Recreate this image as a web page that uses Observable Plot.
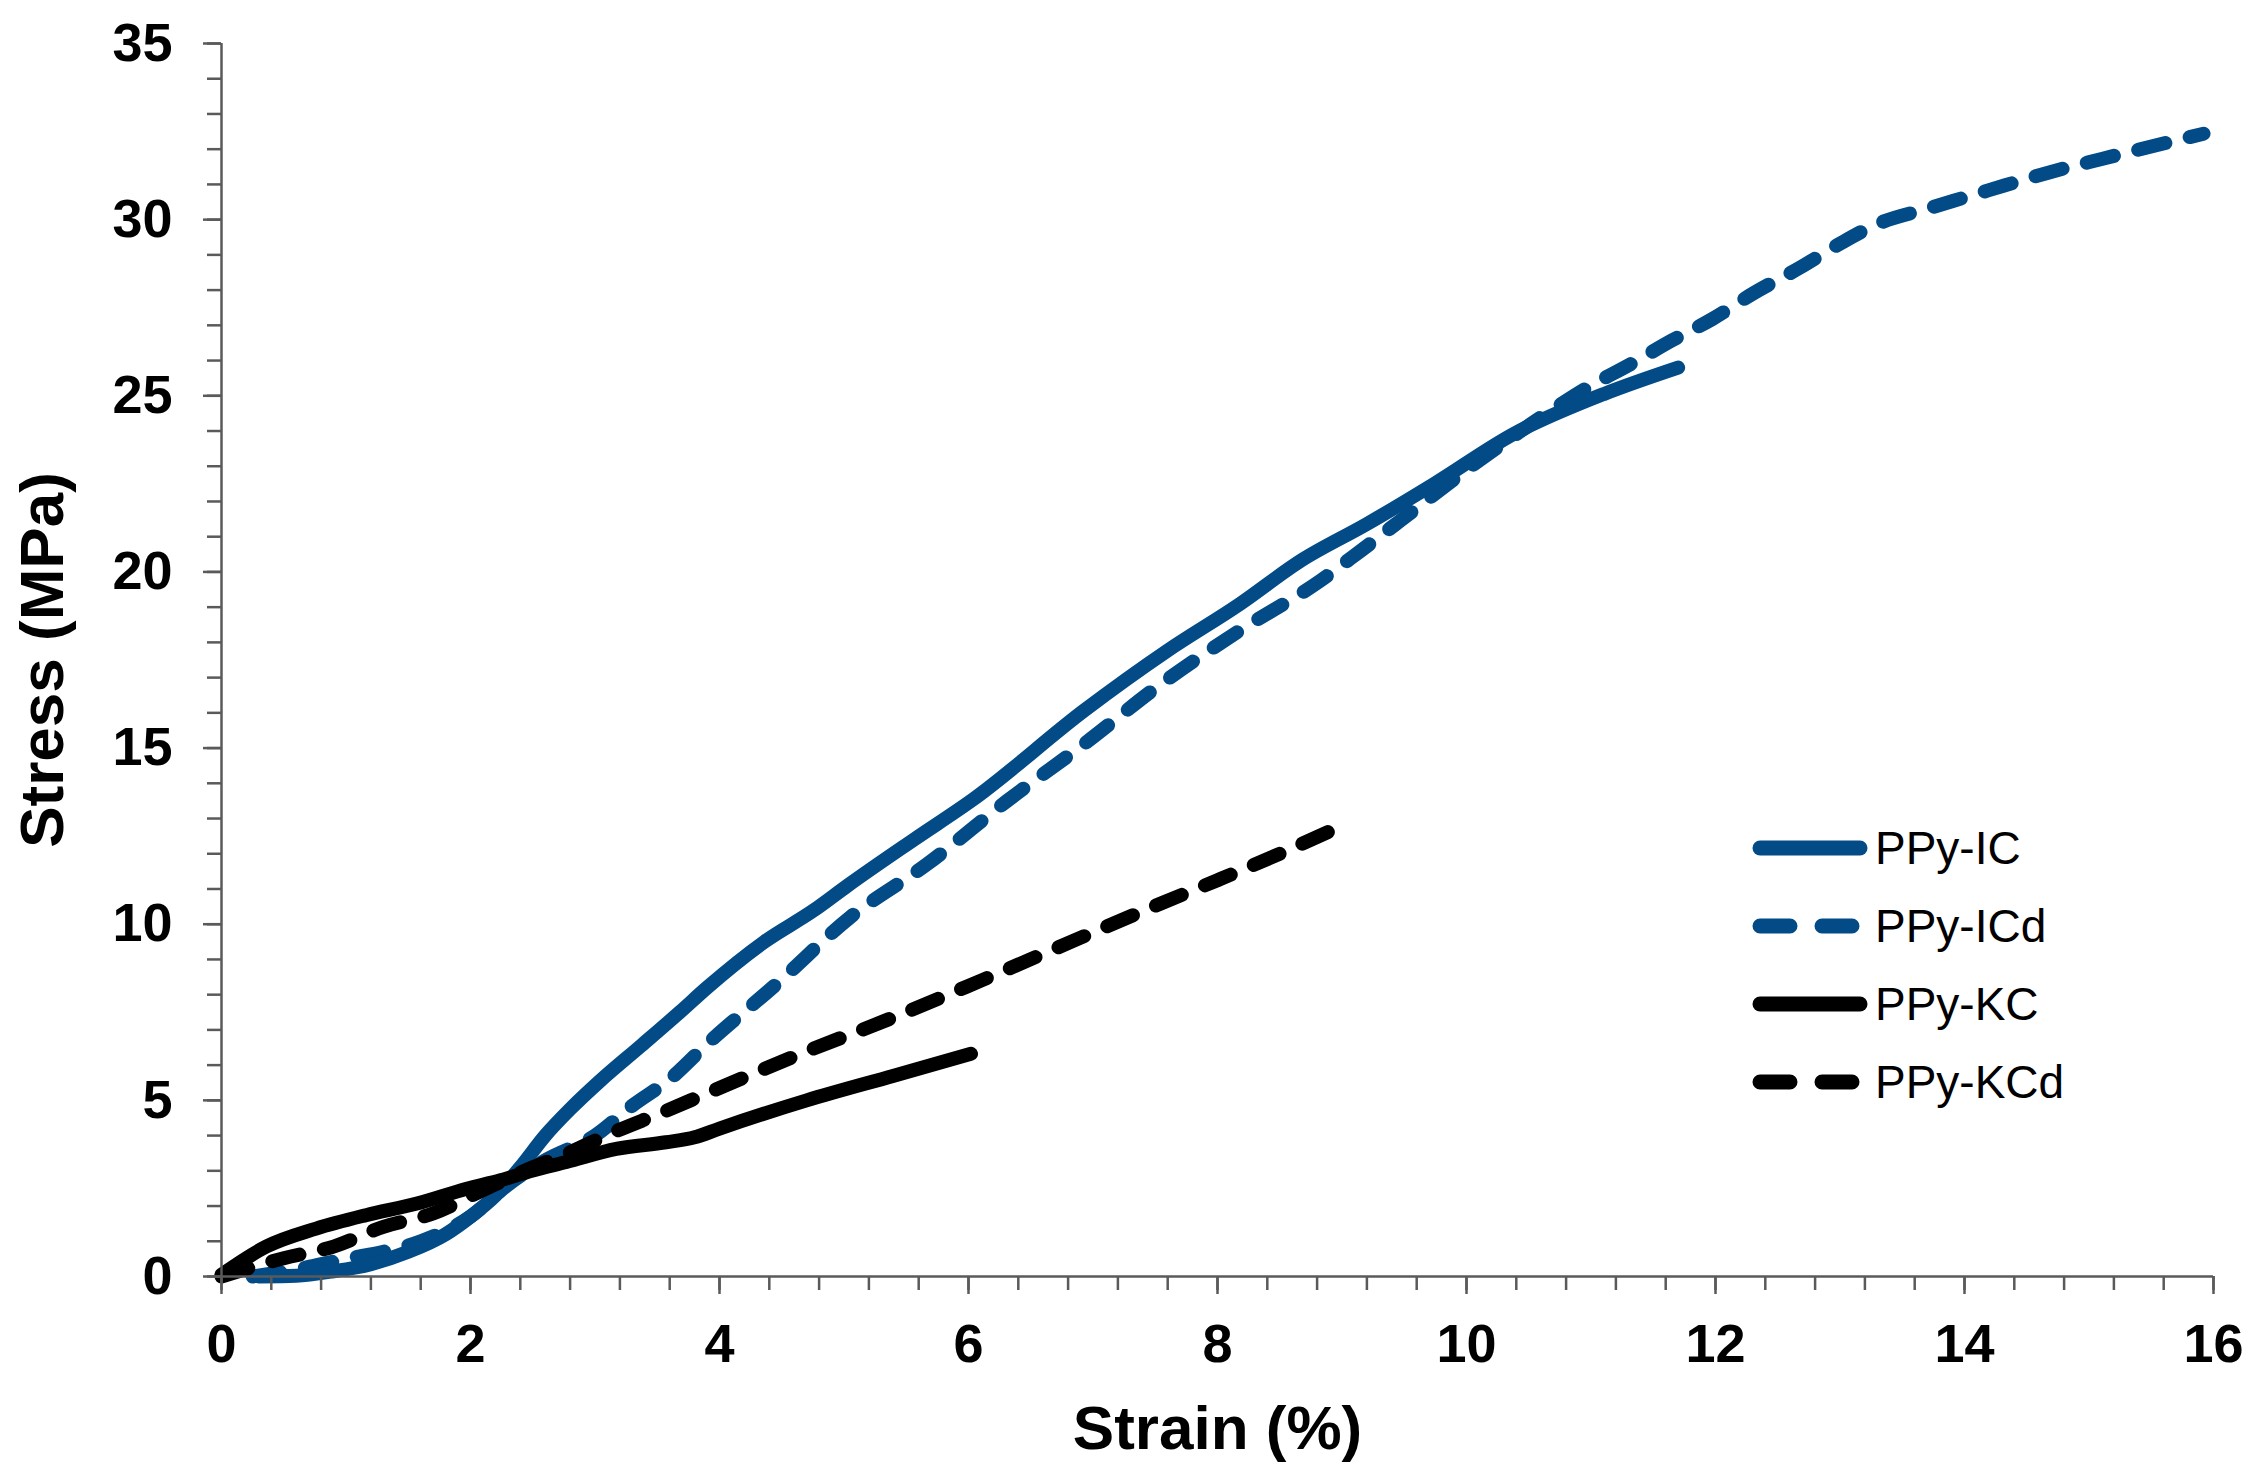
<!DOCTYPE html>
<html>
<head>
<meta charset="utf-8">
<script src="https://cdn.jsdelivr.net/npm/d3@7"></script>
<script src="https://cdn.jsdelivr.net/npm/@observablehq/plot@0.6"></script>
<style>
  html, body { margin: 0; padding: 0; background: #fff; }
  #wrap { position: relative; width: 2256px; height: 1482px; }
  #legend { position: absolute; left: 0; top: 0; pointer-events: none; }
</style>
</head>
<body>
<div id="wrap"></div>
<script>
// ---------- data ----------
const seriesNames = ["PPy-IC", "PPy-ICd", "PPy-KC", "PPy-KCd"];

const strain_IC = [0.3, 0.6, 0.9, 1.2, 1.5, 1.8, 2.0, 2.2, 2.4, 2.6, 2.8, 3.04, 3.37, 3.68, 3.90, 4.36, 4.76, 5.03, 5.56, 6.04, 6.93, 7.60, 8.18, 8.67, 9.20, 9.74, 10.38, 11.11, 11.70];
const stress_IC = [0, 0.02, 0.15, 0.35, 0.7, 1.2, 1.7, 2.3, 3.1, 4.0, 4.75, 5.55, 6.55, 7.5, 8.2, 9.5, 10.4, 11.1, 12.4, 13.55, 16.07, 17.77, 19.09, 20.32, 21.36, 22.5, 23.92, 25.06, 25.80];

const strain_ICd = [0.25, 0.6, 1.0, 1.3, 1.6, 2.0, 2.3, 2.6, 3.0, 3.3, 3.6, 3.9, 4.46, 5.05, 5.67, 6.31, 6.93, 7.54, 8.18, 8.83, 9.15, 9.47, 10.0, 10.68, 10.97, 11.33, 11.65, 11.98, 12.30, 12.68, 13.0, 13.33, 13.70, 14.19, 14.68, 15.11, 15.92];
const stress_ICd = [0, 0.2, 0.5, 0.7, 1.0, 1.7, 2.6, 3.3, 4.0, 4.85, 5.6, 6.6, 8.31, 10.2, 11.71, 13.5, 15.12, 16.8, 18.34, 19.76, 20.6, 21.46, 22.9, 24.58, 25.23, 25.92, 26.57, 27.19, 27.9, 28.64, 29.32, 29.92, 30.31, 30.83, 31.34, 31.73, 32.44];

const strain_KC = [0, 0.36, 0.76, 1.16, 1.57, 1.97, 2.24, 2.50, 2.77, 3.17, 3.57, 3.8, 4.0, 4.7, 5.4, 6.02];
const stress_KC = [0.05, 0.85, 1.36, 1.74, 2.07, 2.49, 2.73, 3.01, 3.25, 3.62, 3.81, 3.95, 4.2, 5.0, 5.7, 6.32];

const strain_KCd = [0, 0.5, 0.9, 1.3, 1.7, 2.1, 2.5, 2.77, 3.12, 3.57, 3.9, 4.65, 5.40, 6.10, 6.85, 7.54, 8.0, 8.5, 8.97];
const stress_KCd = [0, 0.52, 0.85, 1.41, 1.79, 2.45, 3.1, 3.48, 4.05, 4.70, 5.2, 6.32, 7.36, 8.40, 9.54, 10.58, 11.25, 12.0, 12.75];

const xMajorTicks = [0, 2, 4, 6, 8, 10, 12, 14, 16];
const xMinorTicks = [0, 0.4, 0.8, 1.2, 1.6, 2, 2.4, 2.8, 3.2, 3.6, 4, 4.4, 4.8, 5.2, 5.6, 6, 6.4, 6.8, 7.2, 7.6, 8, 8.4, 8.8, 9.2, 9.6, 10, 10.4, 10.8, 11.2, 11.6, 12, 12.4, 12.8, 13.2, 13.6, 14, 14.4, 14.8, 15.2, 15.6, 16];
const yMajorTicks = [0, 5, 10, 15, 20, 25, 30, 35];
const yMinorTicks = [0, 1, 2, 3, 4, 5, 6, 7, 8, 9, 10, 11, 12, 13, 14, 15, 16, 17, 18, 19, 20, 21, 22, 23, 24, 25, 26, 27, 28, 29, 30, 31, 32, 33, 34, 35];

const xLabel = "Strain (%)";
const yLabel = "Stress (MPa)";

// ---------- styles ----------
const BLUE = "#034b86";
const BLACK = "#000000";
const AXIS = "#5a5a5a";
const FONT = "'Liberation Sans', Arial, Helvetica, sans-serif";
const seriesStyle = {
  "PPy-IC":  {stroke: BLUE,  dash: null},
  "PPy-ICd": {stroke: BLUE,  dash: "28,25"},
  "PPy-KC":  {stroke: BLACK, dash: null},
  "PPy-KCd": {stroke: BLACK, dash: "28,25"}
};

const toRows = (xs, ys) => xs.map((x, i) => ({strain: x, stress: ys[i]}));
const rows = {
  "PPy-IC": toRows(strain_IC, stress_IC),
  "PPy-ICd": toRows(strain_ICd, stress_ICd),
  "PPy-KC": toRows(strain_KC, stress_KC),
  "PPy-KCd": toRows(strain_KCd, stress_KCd)
};

const lineMark = (name) => Plot.line(rows[name], {
  x: "strain", y: "stress",
  stroke: seriesStyle[name].stroke,
  strokeWidth: 14,
  strokeLinecap: "round",
  strokeLinejoin: "round",
  strokeDasharray: seriesStyle[name].dash || undefined,
  curve: "monotone-x"
});

const W = 2256, H = 1482;
const chart = Plot.plot({
  width: W, height: H,
  marginLeft: 221, marginRight: 43, marginTop: 43, marginBottom: 206,
  style: {fontFamily: FONT, background: "#fff", color: "#000"},
  x: {domain: [0, 16]},
  y: {domain: [0, 35]},
  marks: [
    lineMark("PPy-ICd"),
    lineMark("PPy-IC"),
    lineMark("PPy-KCd"),
    lineMark("PPy-KC"),
    Plot.ruleY([0], {stroke: AXIS, strokeWidth: 2.5}),
    Plot.ruleX([0], {stroke: AXIS, strokeWidth: 2.5}),
    Plot.axisX({ticks: xMinorTicks, tickSize: 14, tickFormat: () => "", label: null, stroke: AXIS, strokeWidth: 2.5}),
    Plot.axisX({ticks: xMajorTicks, tickSize: 18, tickPadding: 29, tickFormat: d => String(d), label: null,
      stroke: AXIS, strokeWidth: 2.5, fontSize: 54, fontWeight: "bold", fill: "#000"}),
    Plot.axisY({ticks: yMinorTicks, tickSize: 14, tickFormat: () => "", label: null, stroke: AXIS, strokeWidth: 2.5}),
    Plot.axisY({ticks: yMajorTicks, tickSize: 18, tickPadding: 31, tickFormat: d => String(d), label: null,
      stroke: AXIS, strokeWidth: 2.5, fontSize: 54, fontWeight: "bold", fill: "#000"}),
    Plot.text([xLabel], {text: d => d, frameAnchor: "bottom", dy: 172, lineAnchor: "bottom",
      fontSize: 62, fontWeight: "bold", fill: "#000"}),
    Plot.text([yLabel], {text: d => d, frameAnchor: "left", dx: -203, rotate: -90, lineAnchor: "top",
      textAnchor: "middle", fontSize: 62, fontWeight: "bold", fill: "#000"})
  ]
});

const wrap = document.getElementById("wrap");
wrap.appendChild(chart);

// ---------- legend (overlay) ----------
const legendLeft = 1760, legendTop = 848, legendRow = 78, sampleLen = 92, textX = 1875;
const ns = "http://www.w3.org/2000/svg";
const lg = document.createElementNS(ns, "svg");
lg.setAttribute("id", "legend");
lg.setAttribute("width", W);
lg.setAttribute("height", H);
seriesNames.forEach((name, i) => {
  const cy = legendTop + i * legendRow;
  const ln = document.createElementNS(ns, "line");
  const solid = !seriesStyle[name].dash;
  ln.setAttribute("x1", legendLeft);
  ln.setAttribute("x2", legendLeft + (solid ? 100 : sampleLen));
  ln.setAttribute("y1", cy);
  ln.setAttribute("y2", cy);
  ln.setAttribute("stroke", seriesStyle[name].stroke);
  ln.setAttribute("stroke-width", 15);
  ln.setAttribute("stroke-linecap", "round");
  if (!solid) ln.setAttribute("stroke-dasharray", "30,32");
  lg.appendChild(ln);
  const t = document.createElementNS(ns, "text");
  t.setAttribute("x", textX);
  t.setAttribute("y", cy);
  t.setAttribute("dy", "0.35em");
  t.setAttribute("font-family", FONT);
  t.setAttribute("font-size", 46);
  t.setAttribute("fill", "#000");
  t.textContent = name;
  lg.appendChild(t);
});
wrap.appendChild(lg);
</script>
</body>
</html>
